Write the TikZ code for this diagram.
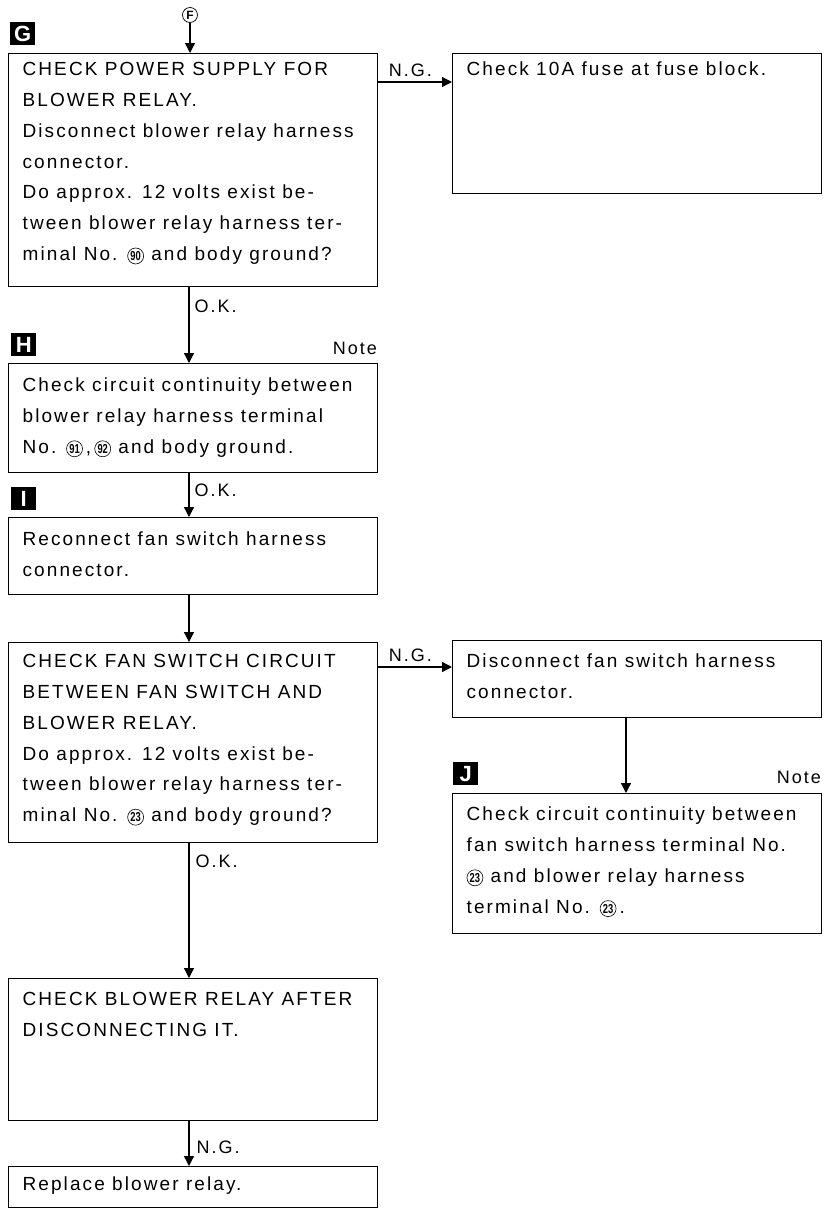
\documentclass[tikz,border=0pt]{standalone}
\usepackage{fontspec}
\usepackage{graphicx}
\setmainfont{Liberation Sans}
\newfontfamily\bodyfont{Liberation Sans}[LetterSpace=11]
\usetikzlibrary{arrows.meta,calc}

\newcommand\bx[4]{\parbox[t][#2pt][t]{#1pt}{\bodyfont\fontsize{19}{30.8}\selectfont\raggedright\leftskip=14pt\parindent=0pt\rule{0pt}{#3pt}#4}}
\newcommand\cnum[1]{\tikz[baseline=(cn.base)]\node[circle,draw,line width=0.6pt,inner sep=0pt,minimum size=16pt,font=\rmfamily\fontsize{13}{13}\selectfont\bfseries] (cn) {\scalebox{0.72}[1]{#1}};}

\begin{document}
\begin{tikzpicture}[x=1pt,y=-1pt,
  box/.style={draw,line width=1.3pt,inner sep=0pt,anchor=north west},
  arr/.style={line width=1.3pt,-{Triangle[width=10pt,length=10pt]}},
  tag/.style={fill=black,text=white,inner sep=0pt,minimum width=25pt,minimum height=23pt,anchor=north west,font=\rmfamily\fontsize{22}{22}\selectfont\bfseries},
  lbl/.style={inner sep=0pt,font=\bodyfont\fontsize{18}{18}\selectfont},
]
\useasboundingbox (0,0) rectangle (825,1211);

\node[box] (g) at (8,53) {\bx{369}{233}{22}{CHECK POWER SUPPLY FOR\\ BLOWER RELAY.\\ Disconnect blower relay harness\\ connector.\\ Do approx. 12 volts exist be-\\ tween blower relay harness ter-\\ minal No. \cnum{90} and body ground?}};
\node[box] (r1) at (452,53) {\bx{369}{140}{22}{Check 10A fuse at fuse block.}};
\node[box] (h) at (8,363) {\bx{369}{109}{28}{Check circuit continuity between\\ blower relay harness terminal\\ No. \cnum{91}\,,\,\cnum{92} and body ground.}};
\node[box] (i) at (8,517) {\bx{369}{77}{28}{Reconnect fan switch harness\\ connector.}};
\node[box] (fan) at (8,642) {\bx{369}{200}{25}{CHECK FAN SWITCH CIRCUIT\\ BETWEEN FAN SWITCH AND\\ BLOWER RELAY.\\ Do approx. 12 volts exist be-\\ tween blower relay harness ter-\\ minal No. \cnum{23} and body ground?}};
\node[box] (disc) at (452,640) {\bx{369}{77}{27}{Disconnect fan switch harness\\ connector.}};
\node[box] (j) at (452,793) {\bx{369}{140}{27}{Check circuit continuity between\\ fan switch harness terminal No.\\ \cnum{23} and blower relay harness\\ terminal No. \cnum{23}\,.}};
\node[box] (bl) at (8,978) {\bx{369}{142}{27}{CHECK BLOWER RELAY AFTER\\ DISCONNECTING IT.}};
\node[box] (rep) at (8,1166) {\bx{369}{41}{24}{Replace blower relay.}};

\node[tag] (tg) at (10,22) {G};
\node[tag] (th) at (11,333) {H};
\node[tag] (ti) at (11,487) {I};
\node[tag] (tj) at (453,762) {J};

\node[lbl,anchor=base east] (nh) at (377,354) {Note};
\node[lbl,anchor=base east] (nj) at (821,783) {Note};

\node[circle,draw,line width=0.7pt,minimum size=15pt,inner sep=0pt,font=\rmfamily\fontsize{12}{12}\selectfont\bfseries] (f) at (190,15) {F};

\draw[arr] (f.south) -- (f.south |- g.north);
\draw[arr] ([yshift=-29pt]g.north east) coordinate (a1) -- (a1 -| r1.west)
  node[lbl,pos=0,anchor=base west,xshift=10pt,yshift=6pt] (ng1) {N.G.};
\draw[arr] ([xshift=181pt]g.south west) -- ([xshift=181pt]h.north west)
  node[lbl,pos=0,anchor=base west,xshift=5pt,yshift=-25pt] (ok1) {O.K.};
\draw[arr] ([xshift=181pt]h.south west) -- ([xshift=181pt]i.north west)
  node[lbl,pos=0,anchor=base west,xshift=5pt,yshift=-23pt] (ok2) {O.K.};
\draw[arr] ([xshift=181pt]i.south west) -- ([xshift=181pt]fan.north west);
\draw[arr] ([yshift=-25pt]fan.north east) coordinate (a2) -- (a2 -| disc.west)
  node[lbl,pos=0,anchor=base west,xshift=10pt,yshift=6pt] (ng2) {N.G.};
\draw[arr] ([xshift=174pt]disc.south west) coordinate (a3) -- (a3 |- j.north);
\draw[arr] ([xshift=181pt]fan.south west) -- ([xshift=181pt]bl.north west)
  node[lbl,pos=0,anchor=base west,xshift=6pt,yshift=-24pt] (ok3) {O.K.};
\draw[arr] ([xshift=181pt]bl.south west) -- ([xshift=181pt]rep.north west)
  node[lbl,pos=0,anchor=base west,xshift=7pt,yshift=-32pt] (ng3) {N.G.};
\end{tikzpicture}
\end{document}
